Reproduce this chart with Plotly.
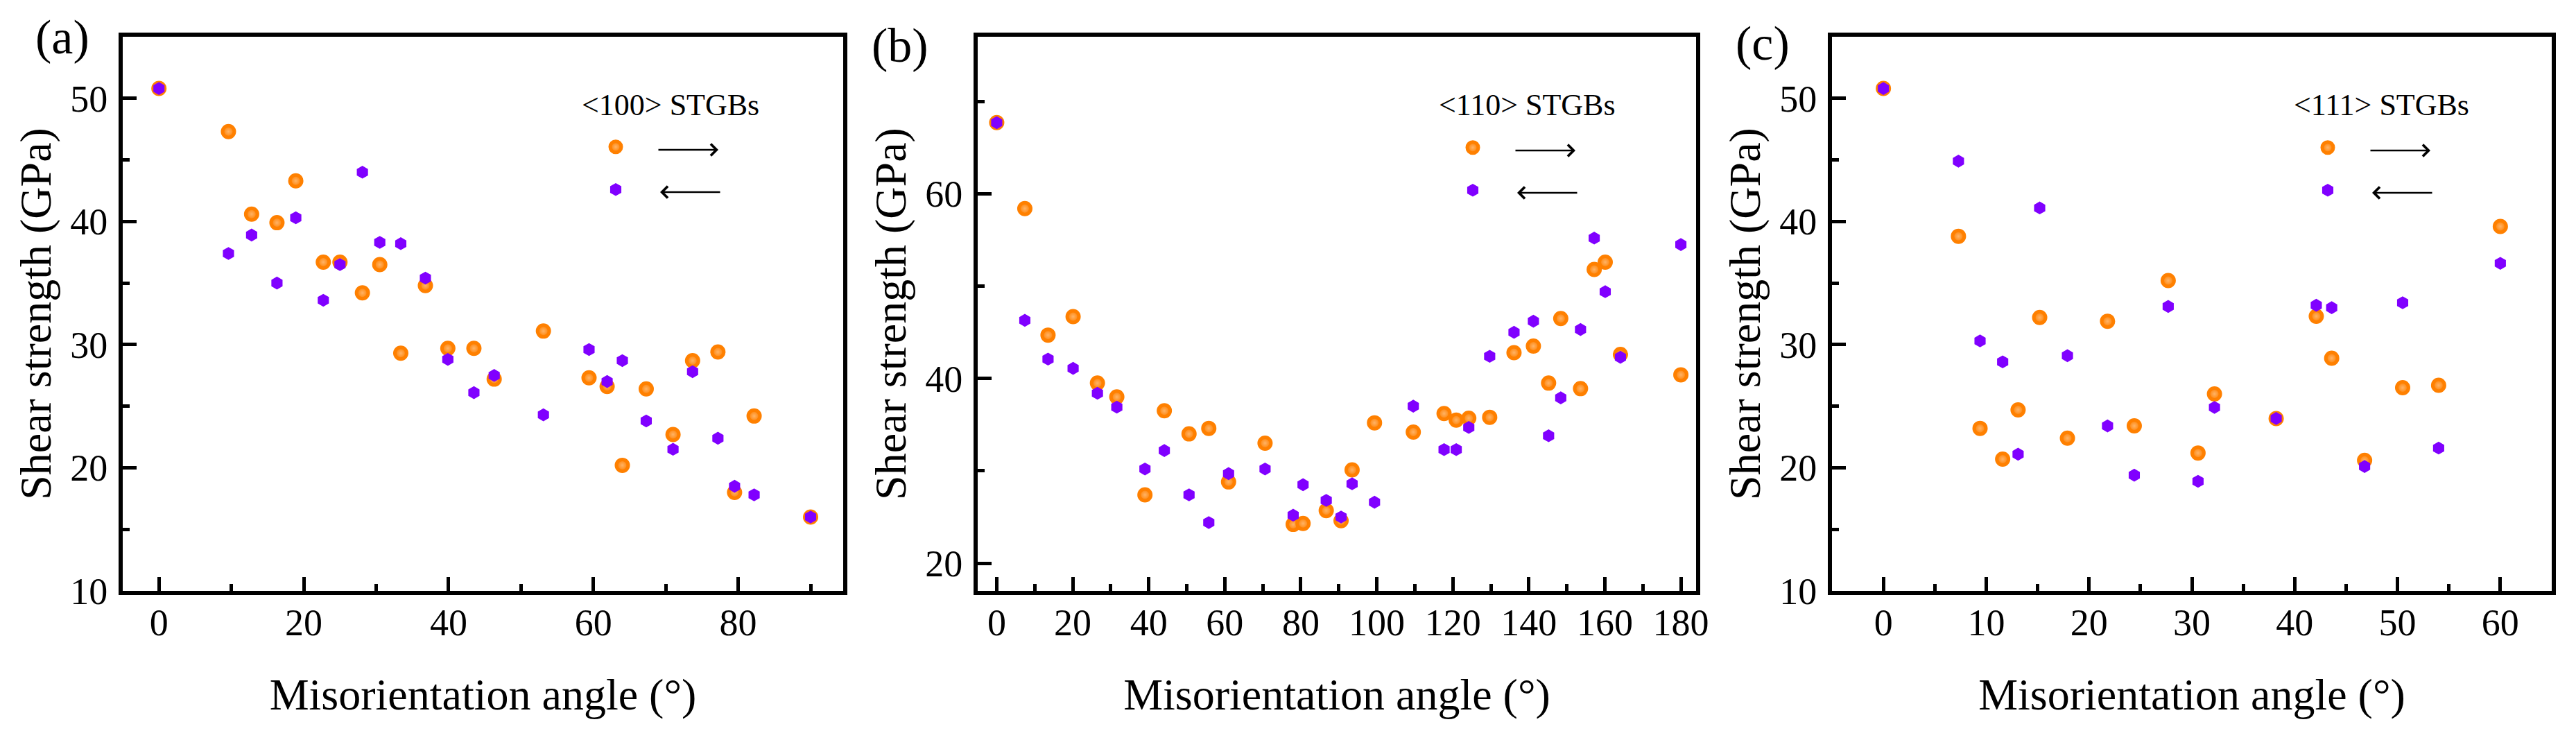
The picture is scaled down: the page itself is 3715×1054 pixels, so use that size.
import plotly.graph_objects as go

FONT = "Liberation Serif, Times New Roman, serif"
W, H = 3715, 1054
OFF = 8  # default body margin of the written page

# ---- data (misorientation angle in deg, shear strength in GPa) ----
ang_100 = [0, 9.6, 12.8, 16.3, 18.9, 22.7, 25.0, 28.1, 30.5, 33.4, 36.8, 39.9, 43.5,
           46.3, 53.1, 59.4, 61.9, 64.0, 67.3, 71.0, 73.7, 77.2, 79.5, 82.2, 90]
fwd_100 = [50.8, 47.3, 40.6, 39.9, 43.3, 36.7, 36.7, 34.2, 36.5, 29.3, 34.8, 29.7, 29.7,
           27.2, 31.1, 27.3, 26.6, 20.2, 26.4, 22.7, 28.7, 29.4, 18.0, 24.2, 16.0]
bwd_100 = [50.8, 37.4, 38.9, 35.0, 40.3, 33.6, 36.5, 44.0, 38.3, 38.2, 35.4, 28.8, 26.1,
           27.5, 24.3, 29.6, 27.0, 28.7, 23.8, 21.5, 27.8, 22.4, 18.5, 17.8, 16.0]

ang_110 = [0, 7.4, 13.5, 20.1, 26.5, 31.6, 39.0, 44.1, 50.6, 55.8, 61.0, 70.6, 78.0, 80.6,
           86.7, 90.6, 93.5, 99.4, 109.6, 117.7, 120.9, 124.2, 129.7, 136.1, 141.2, 145.2,
           148.4, 153.6, 157.2, 160.1, 164.1, 180]
fwd_110 = [67.7, 58.4, 44.7, 46.7, 39.5, 38.0, 27.4, 36.5, 34.0, 34.6, 28.8, 33.0, 24.2, 24.3,
           25.7, 24.6, 30.1, 35.2, 34.2, 36.2, 35.5, 35.7, 35.8, 42.8, 43.5, 39.5,
           46.5, 38.9, 51.8, 52.6, 42.6, 40.4]
bwd_110 = [67.7, 46.3, 42.1, 41.1, 38.4, 36.9, 30.2, 32.2, 27.4, 24.4, 29.7, 30.2, 25.2, 28.5,
           26.8, 25.0, 28.6, 26.6, 37.0, 32.3, 32.3, 34.7, 42.4, 45.0, 46.2, 33.8,
           37.9, 45.3, 55.2, 49.4, 42.3, 54.5]

ang_111 = [0, 7.3, 9.4, 11.6, 13.1, 15.2, 17.9, 21.8, 24.4, 27.7, 30.6, 32.2, 38.2, 42.1,
           43.6, 46.8, 50.5, 54.0, 60]
fwd_111 = [50.8, 38.8, 23.2, 20.7, 24.7, 32.2, 22.4, 31.9, 23.4, 35.2, 21.2, 26.0, 24.0, 32.3,
           28.9, 20.6, 26.5, 26.7, 39.6]
bwd_111 = [50.8, 44.9, 30.3, 28.6, 21.1, 41.1, 29.1, 23.4, 19.4, 33.1, 18.9, 24.9, 24.0, 33.2,
           33.0, 20.1, 33.4, 21.6, 36.6]

panel_tags = ["(a)", "(b)", "(c)"]
legend_titles = ["<100> STGBs", "<110> STGBs", "<111> STGBs"]
x_ranges = [[-5, 94.5], [-5, 184], [-5, 65]]
y_ranges = [[10, 55], [17, 77], [10, 55]]
x_dticks = [20, 20, 10]
y_dticks = [10, 20, 10]


def px_x(p):
    return (p - OFF) / W


def px_y(p):
    return 1 - (p - OFF) / H


# panel boxes in pixels (axis line centres)
box_x = [(177, 1216), (1410, 2446), (2642, 3680)]
box_y = (53, 852)
leg_mark = [(888, 212, 273), (2124, 213, 274), (3357, 213, 274)]
tag_pos = [(90, 53.5), (1298, 65.5), (2542, 62.5)]

ORANGE = "#FF8000"
PURPLE = "#8000FF"

fig = go.Figure()
series = [(ang_100, fwd_100, bwd_100), (ang_110, fwd_110, bwd_110), (ang_111, fwd_111, bwd_111)]
annotations = []
layout = dict(width=W, height=H, margin=dict(l=0, r=0, t=0, b=0, autoexpand=False),
              paper_bgcolor="white", plot_bgcolor="white", showlegend=True,
              font=dict(family=FONT, color="black"))

for i, (ang, fwd, bwd) in enumerate(series):
    n = "" if i == 0 else str(i + 1)
    leg = "legend" if i == 0 else "legend%d" % (i + 1)
    # forward (orange spheres) then backward (purple hexagons) on top
    fig.add_trace(go.Scatter(
        x=ang, y=fwd, mode="markers", name=" ", xaxis="x" + n, yaxis="y" + n, legend=leg,
        marker=dict(symbol="circle", size=17, color=ORANGE,
                    gradient=dict(type="radial", color="#FFB366"),
                    line=dict(color=ORANGE, width=5))))
    fig.add_trace(go.Scatter(
        x=ang, y=bwd, mode="markers", name=" ", xaxis="x" + n, yaxis="y" + n, legend=leg,
        marker=dict(symbol="hexagon", size=14, color=PURPLE,
                    line=dict(color=PURPLE, width=4))))

    x0, x1 = box_x[i]
    axis_common = dict(showline=True, linewidth=6, linecolor="black", mirror=True,
                       ticks="inside", ticklen=20, tickwidth=5, tickcolor="black",
                       showgrid=False, zeroline=False, automargin=False,
                       tickfont=dict(family=FONT, size=54, color="black"))
    layout["xaxis" + n] = dict(
        axis_common, domain=[px_x(x0), px_x(x1)], range=x_ranges[i], anchor="y" + n,
        dtick=x_dticks[i], tick0=0, ticklabelstandoff=-7,
        minor=dict(ticks="inside", ticklen=10, tickwidth=5, tickcolor="black",
                   dtick=x_dticks[i] / 2, tick0=0),
        title=dict(text="Misorientation angle (\u00b0)", font=dict(family=FONT, size=64),
                   standoff=53))
    layout["yaxis" + n] = dict(
        axis_common, domain=[px_y(box_y[1]), px_y(box_y[0])], range=y_ranges[i],
        anchor="x" + n, dtick=y_dticks[i], tick0=0, ticklabelstandoff=5,
        minor=dict(ticks="inside", ticklen=10, tickwidth=5, tickcolor="black",
                   dtick=y_dticks[i] / 2, tick0=0),
        title=dict(text="Shear strength (GPa)", font=dict(family=FONT, size=64),
                   standoff=9))

    mx, my1, my2 = leg_mark[i]
    layout[leg] = dict(x=px_x(mx - 20), y=px_y(my1 - 36), xanchor="left", yanchor="top",
                       bgcolor="rgba(0,0,0,0)", borderwidth=0, tracegroupgap=0,
                       font=dict(family=FONT, size=45), itemsizing="trace")

    # legend heading
    annotations.append(dict(x=px_x(mx - 51.5), y=px_y(151), xref="paper", yref="paper",
                            text=legend_titles[i], showarrow=False, xanchor="left",
                            yanchor="middle", font=dict(family=FONT, size=44)))
    # direction arrows next to the legend symbols
    annotations.append(dict(x=px_x(mx + 148), y=px_y(my1 + 4), xref="paper", yref="paper",
                            ax=-88, ay=0, text="", showarrow=True, arrowhead=4,
                            arrowwidth=2.5, arrowsize=1.3, arrowcolor="black"))
    annotations.append(dict(x=px_x(mx + 64), y=px_y(my2 + 4), xref="paper", yref="paper",
                            ax=88, ay=0, text="", showarrow=True, arrowhead=4,
                            arrowwidth=2.5, arrowsize=1.3, arrowcolor="black"))
    # panel tag
    tx, ty = tag_pos[i]
    annotations.append(dict(x=px_x(tx), y=px_y(ty), xref="paper", yref="paper",
                            text=panel_tags[i], showarrow=False, xanchor="center",
                            yanchor="middle", font=dict(family=FONT, size=70)))

layout["annotations"] = annotations
fig.update_layout(**layout)
fig.write_html("out.html")
